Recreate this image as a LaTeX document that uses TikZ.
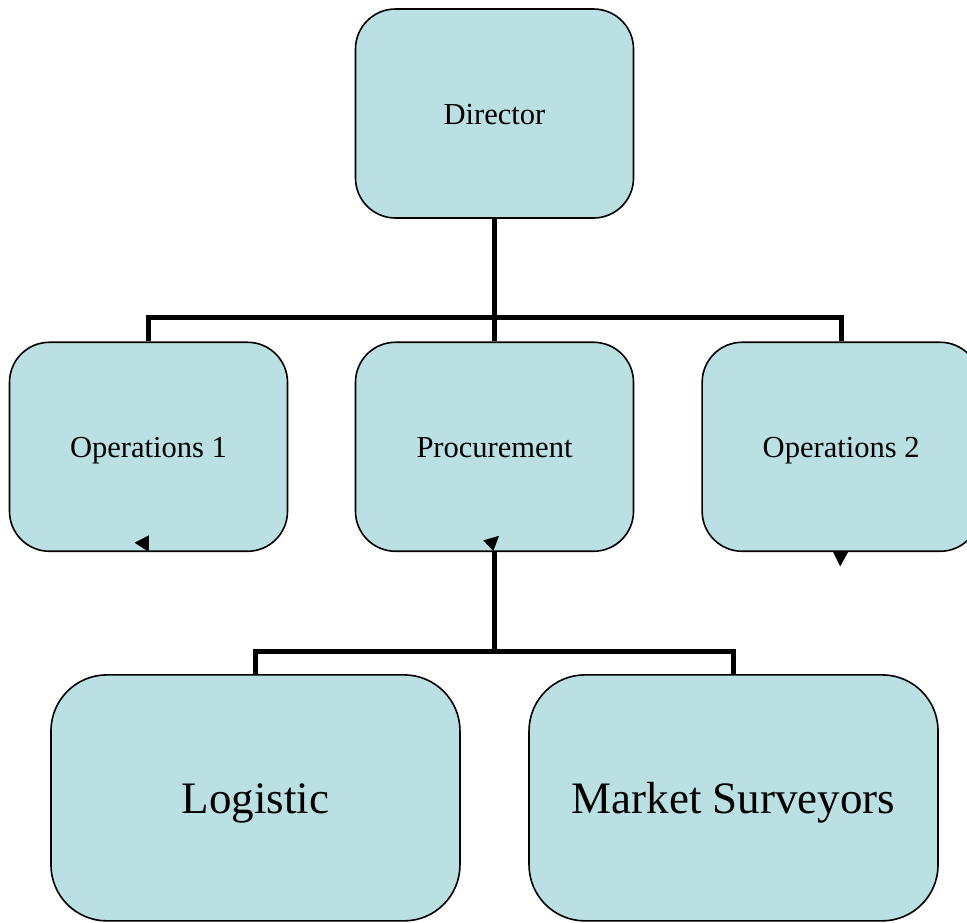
\documentclass[tikz,border=0pt]{standalone}
\usepackage{fontspec}
\setmainfont{Liberation Serif}
\usepackage{xcolor}
\usetikzlibrary{arrows.meta, positioning, calc}
\definecolor{boxfill}{RGB}{186,224,227}

\begin{document}
\begin{tikzpicture}[
    node distance=92pt,
    unit/.style={rectangle, draw=black, line width=1.2pt, fill=boxfill, rounded corners=30pt, minimum width=208.5pt, minimum height=156.75pt, inner sep=0pt, text height=15.8pt, text depth=0pt, font=\fontsize{22.9}{27}\selectfont},
    subunit/.style={unit, rounded corners=42pt, minimum width=306.75pt, minimum height=184.5pt, text height=24pt, font=\fontsize{33.75}{40}\selectfont},
    link/.style={line width=3.75pt, color=black},
    tip/.style={fill=black}
]
    \useasboundingbox (0,0) rectangle (725.25pt,-691.5pt);
    \clip (0,0) rectangle (725.25pt,-691.5pt);

    \node (director) [unit] at (370.875pt,-85.125pt) {Director};
    \node (procurement) [unit, below=of director] {Procurement};
    \node (ops1) [unit, left=49.8pt of procurement] {Operations 1};
    \node (ops2) [unit, right=50.3pt of procurement] {Operations 2};
    \node (logistic) [subunit, below left=91.5pt and 25.3pt of procurement.south] {Logistic};
    \node (market) [subunit, below right=91.5pt and 25.3pt of procurement.south] {Market Surveyors};

    % tree lines
    \draw [link] (director.south) -- (procurement.north);
    \draw [link] (ops1.north) -- ++(0,18pt) -| (ops2.north);
    \draw [link] (procurement.south) -- ++(0,-75.75pt);
    \draw [link] (logistic.north) -- ++(0,17.25pt) -| (market.north);

    % stray tips
    \fill [tip] ($(ops1.south)+(-10.5pt,7pt)$) -- ($(ops1.south)+(0.2pt,12.5pt)$) -- ($(ops1.south)+(0.2pt,0.2pt)$) -- cycle;
    \fill [tip] ($(procurement.south)+(-8.4pt,8.8pt)$) -- ($(procurement.south)+(3.4pt,12.2pt)$) -- ($(procurement.south)+(-0.9pt,0.75pt)$) -- cycle;
    \fill [tip] ($(ops2.south)+(-6.25pt,0.5pt)$) -- ($(ops2.south)+(5.5pt,0.5pt)$) -- ($(ops2.south)+(-0.75pt,-10.75pt)$) -- cycle;
\end{tikzpicture}
\end{document}
